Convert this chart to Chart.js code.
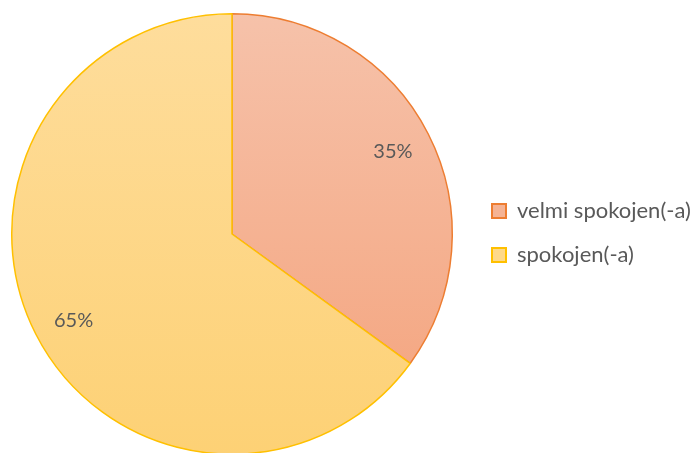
<!DOCTYPE html>
<html>
<head>
<meta charset="utf-8">
<script src="https://cdn.jsdelivr.net/npm/chart.js@4/dist/chart.umd.min.js"></script>
<style>
html,body{margin:0;padding:0;background:#fff;overflow:hidden;width:697px;height:453px;position:relative}
#wrap{width:703px;height:457px;position:absolute;left:-6px;top:0}
</style>
</head>
<body>
<div id="wrap"><canvas id="pie"></canvas></div>
<script>
const labels = ['velmi spokojen(-a)', 'spokojen(-a)'];
const values = [35, 65];
const pctLabels = ['35%', '65%'];

const ORANGE = '#ED7D31', YELLOW = '#FFC000';
const FILLS = [['#F6C2AA', '#F4A27B'], ['#FEDD9C', '#FDD175']];
const BOX = ['#F5B394', '#FED98A'];
const FONT = 'Lato, "Open Sans", sans-serif';

function grad(ctx, i) {
  const area = ctx.chart.chartArea;
  if (!area) return FILLS[i][0];
  const g = ctx.chart.ctx.createLinearGradient(0, area.top, 0, area.bottom);
  g.addColorStop(0, FILLS[i][0]);
  g.addColorStop(1, FILLS[i][1]);
  return g;
}

const legendFit = {
  id: 'legendFit',
  beforeInit(chart) {
    const fit = chart.legend.fit;
    chart.legend.fit = function () {
      fit.bind(chart.legend)();
      this.width = 227;
    };
  },
  afterLayout(chart) {
    chart.legend.top -= 1;
    chart.legend.bottom -= 1;
  }
};

const pctText = {
  id: 'pctText',
  afterDatasetsDraw(chart) {
    const ctx = chart.ctx;
    const meta = chart.getDatasetMeta(0);
    ctx.save();
    ctx.font = '20px ' + FONT;
    ctx.fillStyle = '#595959';
    ctx.textAlign = 'center';
    ctx.textBaseline = 'middle';
    meta.data.forEach((arc, i) => {
      const p = arc.getProps(['x', 'y', 'startAngle', 'endAngle', 'outerRadius']);
      const a = (p.startAngle + p.endAngle) / 2 - (i === 1 ? 0.03 : 0);
      const r = p.outerRadius * 0.82;
      ctx.fillText(pctLabels[i], p.x + Math.cos(a) * r, p.y + Math.sin(a) * r);
    });
    ctx.restore();
  }
};

new Chart(document.getElementById('pie'), {
  type: 'pie',
  data: {
    labels: labels,
    datasets: [{
      data: values,
      backgroundColor: ctx => grad(ctx, ctx.dataIndex),
      borderColor: [ORANGE, YELLOW],
      borderWidth: 1.5
    }]
  },
  options: {
    responsive: true,
    maintainAspectRatio: false,
    animation: false,
    layout: { padding: { top: 13, bottom: 2, left: 0, right: 0 } },
    plugins: {
      tooltip: { enabled: false },
      legend: {
        position: 'right',
        labels: {
          boxWidth: 14,
          boxHeight: 14,
          padding: 22,
          color: '#595959',
          font: { family: FONT, size: 22 },
          generateLabels: () => labels.map((l, i) => ({
            text: l,
            fillStyle: BOX[i],
            strokeStyle: [ORANGE, YELLOW][i],
            lineWidth: 2,
            fontColor: '#595959',
            index: i
          }))
        }
      }
    }
  },
  plugins: [legendFit, pctText]
});
</script>
</body>
</html>
